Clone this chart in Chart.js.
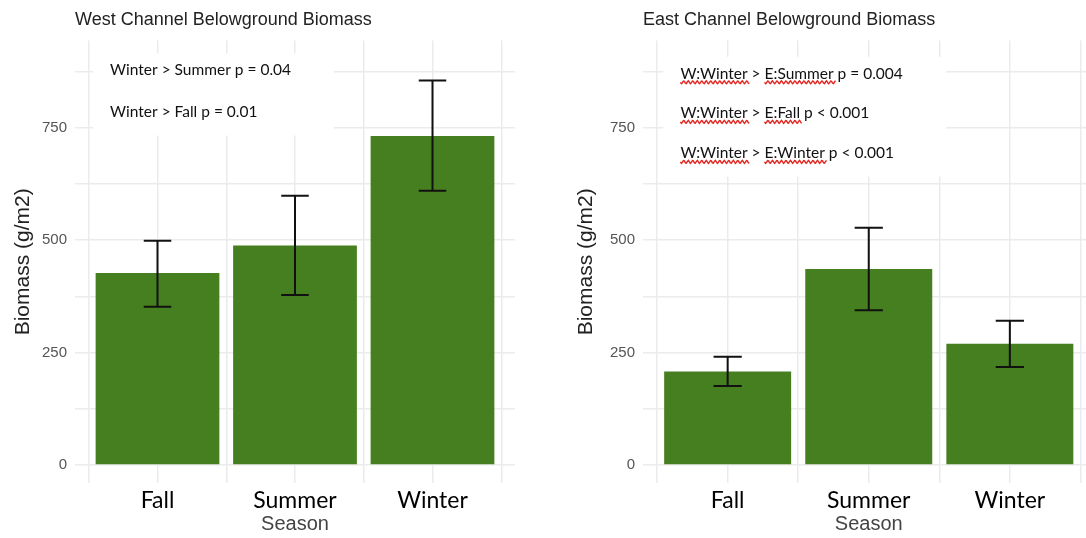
<!DOCTYPE html>
<html>
<head>
<meta charset="utf-8">
<script src="https://cdn.jsdelivr.net/npm/chart.js@4.4.1/dist/chart.umd.min.js"></script>
<style>
  html, body { margin: 0; padding: 0; background: #fff; overflow: hidden; width: 1086px; height: 538px; }
  canvas { position: absolute; top: 0; }
  #west { left: 0; }
  #east { left: 560px; }
</style>
</head>
<body>
<canvas id="west" width="543" height="538"></canvas>
<canvas id="east" width="560" height="538"></canvas>
<script>
// Season categories and mean belowground biomass (g/m2) with error bar limits
const seasons = ['Fall', 'Summer', 'Winter'];

const westMean = [427, 488, 732];
const westLow  = [352, 378, 610];
const westHigh = [499, 599, 855];

const eastMean = [208, 436, 270];
const eastLow  = [176, 344, 218];
const eastHigh = [241, 528, 321];

// Axis ticks: labelled values and all grid positions (major + minor)
const yTickLabels = [0, 250, 500, 750];
const yGridValues = [0, 125, 250, 375, 500, 625, 750, 875];
const xGridValues = [0.5, 1, 1.5, 2, 2.5, 3, 3.5];

// Significance notes, each line anchored at a biomass value
const westNotes = ['Winter > Summer p = 0.04', 'Winter > Fall p = 0.01'];
const westNoteY = [867, 773];
const eastNotes = ['W:Winter > E:Summer p = 0.004', 'W:Winter > E:Fall p < 0.001', 'W:Winter > E:Winter p < 0.001'];
const eastNoteY = [859, 771, 682];

const BAR_GREEN = '#467f1f';
const GRID = '#ebebeb';

// Error bars with caps 0.2 category units wide
const errorBarPlugin = {
  id: 'errbars',
  afterDatasetsDraw(chart, args, opts) {
    const { ctx, scales: { x, y } } = chart;
    ctx.save();
    ctx.strokeStyle = '#111';
    ctx.lineWidth = 2;
    opts.low.forEach((lo, i) => {
      const hi = opts.high[i];
      const cx = x.getPixelForValue(i + 1);
      const x0 = x.getPixelForValue(i + 1 - 0.1);
      const x1 = x.getPixelForValue(i + 1 + 0.1);
      const yl = y.getPixelForValue(lo);
      const yh = y.getPixelForValue(hi);
      ctx.beginPath();
      ctx.moveTo(cx, yl); ctx.lineTo(cx, yh);
      ctx.moveTo(x0, yl); ctx.lineTo(x1, yl);
      ctx.moveTo(x0, yh); ctx.lineTo(x1, yh);
      ctx.stroke();
    });
    ctx.restore();
  }
};

// Note block on a white panel, with spell-check style underlines on group codes
const notesPlugin = {
  id: 'notes',
  beforeDatasetsDraw(chart, args, opts) {
    const { ctx, scales: { x, y } } = chart;
    ctx.save();
    ctx.font = '15.5px Lato';
    const left = x.getPixelForValue(opts.x);
    const bases = opts.ys.map(v => y.getPixelForValue(v));
    const widest = Math.max(...opts.lines.map(t => ctx.measureText(t).width));
    ctx.fillStyle = '#fff';
    ctx.fillRect(left - 17, bases[0] - 22, widest + 60, bases[bases.length - 1] - bases[0] + 40);
    ctx.fillStyle = '#111';
    ctx.textBaseline = 'alphabetic';
    opts.lines.forEach((line, i) => {
      ctx.fillText(line, left, bases[i]);
      let pos = 0;
      line.split(' ').forEach(tok => {
        const idx = line.indexOf(tok, pos);
        pos = idx + tok.length;
        if (/^[WE]:/.test(tok)) {
          const sx = left + ctx.measureText(line.slice(0, idx)).width;
          const w = ctx.measureText(tok).width + 2;
          const sy = bases[i] + 3.5;
          ctx.beginPath();
          ctx.strokeStyle = '#e3261f';
          ctx.lineWidth = 1.4;
          for (let t = 0; t <= w; t += 1) {
            const yy = sy + 1.5 * Math.sin(t / 4.5 * Math.PI * 2);
            if (t === 0) ctx.moveTo(sx + t, yy); else ctx.lineTo(sx + t, yy);
          }
          ctx.stroke();
        }
      });
    });
    ctx.restore();
  }
};

function buildChart(id, cfg) {
  return new Chart(document.getElementById(id), {
    type: 'bar',
    data: {
      datasets: [{
        data: cfg.mean.map((v, i) => ({ x: i + 1, y: v })),
        backgroundColor: BAR_GREEN,
        borderWidth: 0,
        // grid ticks sit every half category, so the sample spacing is half a bar slot
        barPercentage: 0.9,
        categoryPercentage: 2
      }]
    },
    options: {
      responsive: false,
      animation: false,
      events: [],
      layout: { padding: { left: 0, right: cfg.padRight, top: 0, bottom: 0 } },
      plugins: {
        legend: { display: false },
        tooltip: { enabled: false },
        title: {
          display: true, text: cfg.title, align: 'start', fullSize: false,
          color: '#222', font: { family: 'Liberation Sans', size: 18, weight: 'normal' },
          padding: { top: 9, bottom: 10 }
        },
        errbars: { low: cfg.low, high: cfg.high },
        notes: { lines: cfg.notes, ys: cfg.noteY, x: cfg.noteX }
      },
      scales: {
        x: {
          type: 'linear', min: 0.4, max: 3.6, offset: false,
          afterBuildTicks: s => { s.ticks = xGridValues.map(v => ({ value: v })); },
          afterFit: s => { s.height = 55; },
          ticks: {
            autoSkip: false, maxRotation: 0, padding: 4, color: '#000',
            font: { family: 'Lato', size: 23 },
            callback: v => Number.isInteger(v) ? seasons[v - 1] : ''
          },
          grid: { color: GRID, lineWidth: 1.5, drawTicks: false, offset: false },
          border: { display: false },
          title: {
            display: true, text: 'Season', color: '#444',
            font: { family: 'Liberation Sans', size: 20 },
            padding: { top: 0, bottom: 2 }
          }
        },
        y: {
          min: -40, max: 944,
          afterBuildTicks: s => { s.ticks = yGridValues.map(v => ({ value: v })); },
          afterFit: s => { s.width = cfg.yWidth; },
          ticks: {
            padding: 8, color: '#555',
            font: { family: 'Liberation Sans', size: 15 },
            callback: v => yTickLabels.includes(v) ? String(v) : ''
          },
          grid: { color: GRID, lineWidth: 1.5, drawTicks: false },
          border: { display: false },
          title: {
            display: true, text: 'Biomass (g/m2)', color: '#222',
            font: { family: 'Liberation Sans', size: 21 },
            padding: { top: cfg.yTitlePad, bottom: 0 }
          }
        }
      }
    },
    plugins: [errorBarPlugin, notesPlugin]
  });
}

function drawAll() {
  buildChart('west', {
    title: 'West Channel Belowground Biomass',
    mean: westMean, low: westLow, high: westHigh,
    notes: westNotes, noteY: westNoteY, noteX: 0.655,
    yWidth: 75, padRight: 28, yTitlePad: 11
  });
  buildChart('east', {
    title: 'East Channel Belowground Biomass',
    mean: eastMean, low: eastLow, high: eastHigh,
    notes: eastNotes, noteY: eastNoteY, noteX: 0.665,
    yWidth: 83, padRight: 25.5, yTitlePad: 14
  });
}

Promise.all([
  document.fonts.load('15.5px Lato'),
  document.fonts.load('23px Lato'),
  document.fonts.load('18px "Liberation Sans"')
]).then(drawAll, drawAll);
</script>
</body>
</html>
